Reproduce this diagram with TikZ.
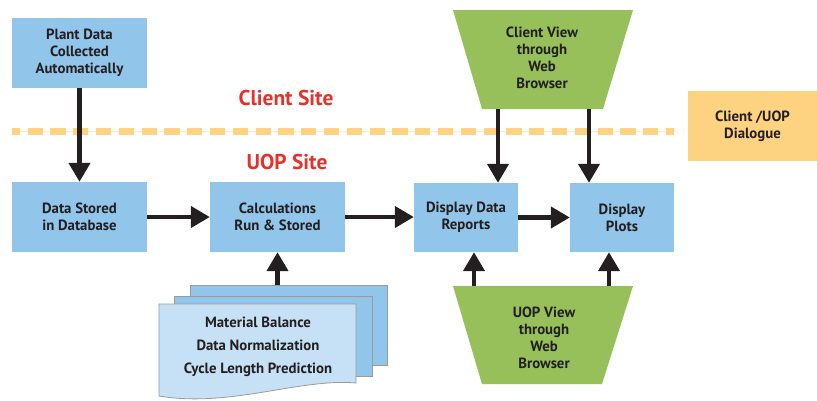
\documentclass[tikz,border=0pt]{standalone}
\usepackage{fontspec}
\setmainfont{PT Sans}
\usetikzlibrary{arrows.meta,calc}
\definecolor{boxblue}{HTML}{92C5EA}
\definecolor{lightblue}{HTML}{C6E1F5}
\definecolor{vgreen}{HTML}{97C05A}
\definecolor{dorange}{HTML}{FDD280}
\definecolor{sitered}{HTML}{E8302A}
\definecolor{ink}{HTML}{231F20}
\definecolor{pagegray}{HTML}{9A9A9A}
\begin{document}
\begin{tikzpicture}[x=1pt,y=-1pt,
  txt/.style={font=\bfseries\fontsize{14.8}{17}\selectfont, text=ink, align=center, inner sep=0pt},
  box/.style={txt, fill=boxblue, minimum width=135pt, minimum height=70pt},
  sbox/.style={txt, fill=boxblue, minimum width=104pt, minimum height=69pt},
  sheet/.style={fill=boxblue, draw=pagegray, line width=0.8pt},
  trap/.style={fill=vgreen},
  sitelabel/.style={font=\bfseries\fontsize{21.4}{24}\selectfont, text=sitered, inner sep=0pt},
  conn/.style={draw=ink, line width=4.3pt, -{Triangle[length=19pt,width=21pt]}}]
\useasboundingbox (0,0) rectangle (817,400);

% dashed boundary
\draw[dorange!45, line width=1pt] (12,131) -- (674,131);
\draw[dorange, line width=7pt, dash pattern=on 15.3pt off 7.5pt, dash phase=7.3pt] (12,131) -- (674,131);

% boxes
\node[box] (plant) at (79.5,53) {Plant Data\\Collected\\Automatically};
\node[box] (stored) at (79.5,217) {Data Stored\\in Database};
\node[box] (calc) at (277.5,217) {Calculations\\Run \& Stored};
\node[sbox] (ddr) at (466,217.5) {Display Data\\Reports};
\node[sbox] (plots) at (622,217.5) {Display\\Plots};
\node[txt, fill=dorange, minimum width=129pt, minimum height=70pt] (dialog) at (752.5,126) {Client /UOP\\Dialogue};

% site labels
\node[sitelabel] (client) at (286,98) {Client Site};
\node[sitelabel] (uop) at (287,162) {UOP Site};

% trapezoids
\fill[trap] (453,10) -- (633,10) -- (603,109) -- (482,109) -- cycle;
\node[txt] (cview) at (542,57.5) {Client View\\through\\Web\\Browser};
\fill[trap] (453,286) -- (633,286) -- (602,384) -- (482,384) -- cycle;
\node[txt] (uview) at (544,337.5) {UOP View\\through\\Web\\Browser};
\coordinate (c1) at (498,109);
\coordinate (c2) at (589,109);
\coordinate (u1) at (474,286);
\coordinate (u2) at (609,286);

% document stack
\node[sheet, minimum width=197pt, minimum height=80pt, inner sep=0pt] (doc3) at (288.5,325) {};
\node[sheet, minimum width=198pt, minimum height=80pt, inner sep=0pt] (doc2) at (273,336) {};
\fill[lightblue] (159,304) -- (356,304) -- (356,383) .. controls (300,378) and (230,408) .. (159,396) -- cycle;
\draw[pagegray, line width=0.8pt] (159,396) -- (159,304) -- (356,304) -- (356,383) .. controls (300,378) and (230,408) .. (159,396);
\node[txt, font=\bfseries\fontsize{14.8}{23}\selectfont] (doctext) at (258,347) {Material Balance\\Data Normalization\\Cycle Length Prediction};

% connectors
\draw[conn] (plant.south) -- (stored.north);
\draw[conn] (stored.east) -- (calc.west);
\draw[conn] (calc.east) -- (calc.east -| ddr.west);
\draw[conn] (ddr.east) -- (plots.west);
\draw[conn] (c1) -- (c1 |- ddr.north);
\draw[conn] (c2) -- (c2 |- plots.north);
\draw[conn] (u1) -- (u1 |- ddr.south);
\draw[conn] (u2) -- (u2 |- plots.south);
\draw[conn] (doc3.north -| calc.south) -- (calc.south);
\end{tikzpicture}
\end{document}
